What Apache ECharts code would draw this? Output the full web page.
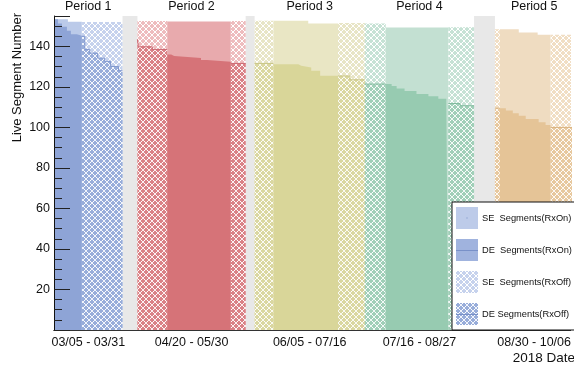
<!DOCTYPE html>
<html><head><meta charset="utf-8">
<script src="https://cdn.jsdelivr.net/npm/echarts@6/dist/echarts.min.js"></script>
<style>html,body{margin:0;padding:0;background:#fff}#c{width:574px;height:370px}</style>
</head><body><div id="c"></div>
<script>
// ---------------- data ----------------
const periodNames = ['Period 1', 'Period 2', 'Period 3', 'Period 4', 'Period 5'];
const periodDates = ['03/05 - 03/31', '04/20 - 05/30', '06/05 - 07/16', '07/16 - 08/27', '08/30 - 10/06'];
const periodStart = [0, 84, 202, 313, 444];
const periodEnd   = [69, 193, 313, 423, 523];
const gapStart = [69, 193, 423];
const gapEnd   = [84, 202, 444];

// Period 1  ([time bin, live segments])
const p1OnAll  = [[0, 153.4], [14, 152.1], [28, 152.1]];
const p1OnDE   = [[0, 153.4], [4, 151.3], [8, 149.7], [13, 147.7], [17, 146.0], [23, 145.2], [28, 145.2]];
const p1OffAll = [[28, 152.0], [69, 152.0]];
const p1OffDE  = [[28, 145.0], [31, 138.5], [36, 136.7], [44, 134.2], [51, 132.6], [57, 130.1], [65, 128.0], [69, 128.0]];
// Period 2
const p2OffAAll = [[84, 152.5], [114, 152.5]];
const p2OffADE  = [[84, 143.5], [85, 139.8], [99, 138.5], [114, 138.5]];
const p2OnAll   = [[114, 152.3], [178, 152.3]];
const p2OnDE    = [[114, 136.0], [118, 135.2], [121, 134.3], [148, 133.3], [154, 132.4], [178, 132.4]];
const p2OffBAll = [[178, 152.5], [193, 152.5]];
const p2OffBDE  = [[178, 131.6], [193, 131.6]];
// Period 3
const p3OffAAll = [[202, 152.6], [221, 152.6]];
const p3OffADE  = [[202, 131.6], [221, 131.6]];
const p3OnAll   = [[221, 152.6], [256, 151.3], [286, 151.3]];
const p3OnDE    = [[221, 131.2], [246, 130.4], [249, 129.6], [259, 128.0], [268, 125.5], [286, 125.5]];
const p3OffBAll = [[286, 151.5], [313, 151.5]];
const p3OffBDE  = [[286, 125.4], [298, 123.5], [313, 123.5]];
// Period 4
const p4OffAAll = [[313, 151.3], [334, 151.3]];
const p4OffADE  = [[313, 121.4], [334, 121.4]];
const p4OnAll   = [[334, 149.3], [397, 149.3]];
const p4OnDE    = [[334, 121.4], [340, 120.4], [345, 119.2], [353, 118.0], [365, 116.5], [377, 115.4], [387, 114.2], [395, 112.8], [397, 112.8]];
const p4OffBAll = [[397, 149.5], [423, 149.5]];
const p4OffBDE  = [[397, 111.8], [409, 110.7], [423, 110.7]];
// Period 5
const p5OffAAll = [[444, 148.5], [449, 148.5]];
const p5OffADE  = [[444, 109.5], [449, 109.5]];
const p5OnAll   = [[449, 148.4], [468, 146.9], [487, 145.7], [500, 145.7]];
const p5OnDE    = [[449, 109.5], [455, 108.3], [462, 107.0], [468, 105.8], [475, 104.2], [488, 102.6], [495, 101.2], [500, 101.2]];
const p5OffBAll = [[500, 145.7], [523, 145.7]];
const p5OffBDE  = [[500, 100.0], [523, 100.0]];

const legendNames = ['SE  Segments(RxOn)', 'DE  Segments(RxOn)', 'SE  Segments(RxOff)', 'DE Segments(RxOff)'];

// ---------------- styles ----------------
const deColor  = ['#8EA4D6', '#D67378', '#D9D699', '#97CBB1', '#E5C497'];
const seColor  = ['#BBCAE9', '#E8AAAD', '#E9E6C4', '#C3E0D2', '#EFDCC1'];
const seHatch  = ['#C6D2ED', '#EEBCBE', '#E8E5C6', '#C6E2D5', '#F1DEC4'];
const deHatch  = ['#98ADDA', '#DA8186', '#DAD7A0', '#A0CFB8', '#E7C89E'];
const deLine   = ['#7F97CE', '#CC6670', '#C8C483', '#82BC9F', '#D9B37F'];

function makePattern(color, fillColor) {
  const c = document.createElement('canvas');
  c.width = 6; c.height = 6;
  const g = c.getContext('2d');
  const plus = (cx, cy) => {
    for (const dx of [-6, 0, 6]) for (const dy of [-6, 0, 6]) {
      g.fillRect(cx - 2 + dx, cy - 1 + dy, 4, 2);
      g.fillRect(cx - 1 + dx, cy - 2 + dy, 2, 4);
    }
  };
  g.fillStyle = color;
  plus(2, 2); plus(5, 5);
  if (fillColor) {
    g.fillStyle = fillColor;
    g.fillRect(4.5, 1.5, 1, 1);
    g.fillRect(1.5, 4.5, 1, 1);
  }
  return { image: c, repeat: 'repeat' };
}
const patSE = seHatch.map(c => makePattern(c));
const patDE = deHatch.map((c, i) => makePattern(c, seHatch[i]));

const segments = [
  [0, 'on', 'all', p1OnAll, legendNames[0]], [0, 'on', 'de', p1OnDE, legendNames[1]],
  [0, 'off', 'all', p1OffAll, legendNames[2]], [0, 'off', 'de', p1OffDE, legendNames[3]],
  [1, 'off', 'all', p2OffAAll], [1, 'off', 'de', p2OffADE], [1, 'on', 'all', p2OnAll], [1, 'on', 'de', p2OnDE],
  [1, 'off', 'all', p2OffBAll], [1, 'off', 'de', p2OffBDE],
  [2, 'off', 'all', p3OffAAll], [2, 'off', 'de', p3OffADE], [2, 'on', 'all', p3OnAll], [2, 'on', 'de', p3OnDE],
  [2, 'off', 'all', p3OffBAll], [2, 'off', 'de', p3OffBDE],
  [3, 'off', 'all', p4OffAAll], [3, 'off', 'de', p4OffADE], [3, 'on', 'all', p4OnAll], [3, 'on', 'de', p4OnDE],
  [3, 'off', 'all', p4OffBAll], [3, 'off', 'de', p4OffBDE],
  [4, 'off', 'all', p5OffAAll], [4, 'off', 'de', p5OffADE], [4, 'on', 'all', p5OnAll], [4, 'on', 'de', p5OnDE],
  [4, 'off', 'all', p5OffBAll], [4, 'off', 'de', p5OffBDE]
];

const series = segments.map(([p, kind, level, data, name], i) => {
  const isDE = level === 'de';
  const fill = kind === 'on' ? (isDE ? deColor[p] : seColor[p]) : (isDE ? patDE[p] : patSE[p]);
  const s = {
    name: name || (periodNames[p] + ' ' + kind + ' ' + level + ' ' + i),
    type: 'line', step: 'end', data: data,
    symbol: 'none', showSymbol: false, silent: true, animation: false,
    itemStyle: { color: fill },
    lineStyle: (isDE && kind === 'off') ? { color: deLine[p], width: 1 } : { width: 0, color: isDE ? deColor[p] : seColor[p] },
    areaStyle: { color: fill, opacity: 1 },
    z: isDE ? 3 : 2
  };
  if (i === 0) {
    s.markArea = {
      silent: true, itemStyle: { color: '#E8E8E8' },
      data: gapStart.map((g, k) => [{ xAxis: g }, { xAxis: gapEnd[k] }])
    };
  }
  return s;
});

const centers = periodStart.map((s, i) => (s + periodEnd[i]) / 2);
const nearest = v => centers.reduce((b, c, i) => Math.abs(c - v) < Math.abs(centers[b] - v) ? i : b, 0);
const FONT = 'Liberation Sans';

const chart = echarts.init(document.getElementById('c'), null, { renderer: 'canvas' });
chart.setOption({
  animation: false,
  backgroundColor: '#fff',
  grid: { left: 54, right: 0, top: 16, bottom: 40 },
  xAxis: [{
    type: 'value', min: 0, max: 520, position: 'bottom', z: 5,
    axisLine: { show: true, lineStyle: { color: '#111', width: 1 } },
    axisTick: { show: false }, splitLine: { show: false },
    axisLabel: { customValues: centers, formatter: v => periodDates[nearest(v)], margin: 6,
      fontFamily: FONT, fontSize: 12.5, color: '#111' }
  }, {
    type: 'value', min: 0, max: 520, position: 'top', z: 5,
    axisLine: { show: true, lineStyle: { color: '#333', width: 1 } },
    axisTick: { show: false }, splitLine: { show: false },
    axisLabel: { customValues: centers, formatter: v => periodNames[nearest(v)], margin: 3,
      fontFamily: FONT, fontSize: 12.5, color: '#111' }
  }],
  yAxis: [{
    type: 'value', min: 0, max: 155, interval: 20, position: 'left', z: 5,
    axisLine: { show: true, lineStyle: { color: '#111', width: 1 } },
    axisTick: { show: true, inside: true, length: 16, lineStyle: { color: '#222' } },
    splitLine: { show: false },
    axisLabel: { margin: 4, fontFamily: FONT, fontSize: 12.5, color: '#111',
      formatter: v => (v === 0 || v % 20 !== 0) ? '' : String(v) }
  }, {
    type: 'value', min: 0, max: 155, interval: 5, position: 'left', z: 5,
    axisLine: { show: false }, splitLine: { show: false }, axisLabel: { show: false },
    axisTick: { show: true, inside: true, length: 8, lineStyle: { color: '#222' } }
  }],
  legend: {
    orient: 'vertical', left: 452, top: 202,
    padding: [5, 40, 5, 4], itemGap: 10, itemWidth: 22, itemHeight: 22,
    backgroundColor: '#fff', borderColor: '#111', borderWidth: 1, borderRadius: 0,
    icon: 'rect', selectedMode: false,
    itemStyle: { borderWidth: 0 },
    textStyle: { fontFamily: FONT, fontSize: 9.3, color: '#111', padding: [0, 0, 0, -1] },
    data: [
      { name: legendNames[0], itemStyle: { color: '#BDCBE9', borderWidth: 0 } },
      { name: legendNames[1], itemStyle: { color: '#A0B3DE', borderWidth: 0 } },
      { name: legendNames[2], itemStyle: { color: patSE[0], borderWidth: 0 } },
      { name: legendNames[3], itemStyle: { color: patDE[0], borderWidth: 0 } }
    ],
    z: 10
  },
  graphic: [
    { type: 'text', x: 17, y: 13, rotation: Math.PI / 2, z: 20,
      style: { text: 'Live Segment Number', font: '13px "Liberation Sans"', fill: '#111', align: 'right', verticalAlign: 'middle' } },
    { type: 'text', x: 575, y: 351, z: 20,
      style: { text: '2018 Date', font: '13.5px "Liberation Sans"', fill: '#111', align: 'right', verticalAlign: 'top' } },
    { type: 'line', z: 20, shape: { x1: 456, y1: 250.5, x2: 478, y2: 250.5 }, style: { stroke: '#7890C8', lineWidth: 1 } },
    { type: 'line', z: 20, shape: { x1: 456, y1: 314.5, x2: 478, y2: 314.5 }, style: { stroke: '#7890C8', lineWidth: 1 } },
    { type: 'rect', z: 20, shape: { x: 466.5, y: 217.5, width: 1, height: 1 }, style: { fill: '#7890C8' } }
  ],
  series: series
});
</script></body></html>
